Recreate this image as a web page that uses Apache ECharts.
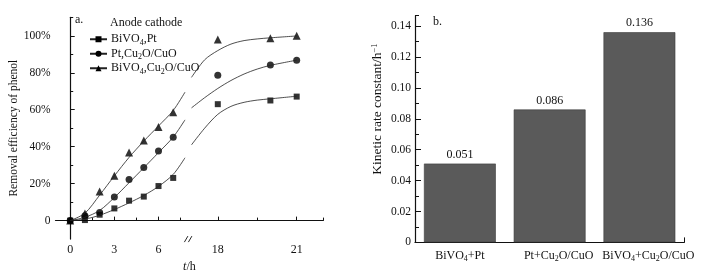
<!DOCTYPE html>
<html>
<head>
<meta charset="utf-8">
<script src="https://cdn.jsdelivr.net/npm/echarts@6/dist/echarts.min.js"></script>
<style>
    html, body { margin: 0; padding: 0; background: #fff; }
    #chart { width: 713px; height: 278px; }
</style>
</head>
<body>
<div id="chart"></div>
<script>
// 测量时间 (h)
const hours = [0, 1, 2, 3, 4, 5, 6, 7, 18, 20, 21];
// 苯酚去除率 (%)
const bivPt = [0, 0.3, 3.2, 6.6, 10.8, 13, 18.7, 23.1, 63, 65, 67.1];
const ptCu = [0, 2.7, 4.4, 12.8, 22.2, 28.8, 37.6, 45.1, 78.7, 84.2, 86.7];
const bivCu = [0, 3.9, 15.8, 24.3, 36.9, 43.3, 50.6, 58.6, 98, 98.6, 100];

// 拟合曲线 (断轴两侧)
const fitHoursLeft = [0, 1, 2, 3, 4, 5, 6, 7, 7.8];
const fitHoursRight = [17, 17.5, 18, 18.5, 19, 19.5, 20, 21];
const fitBivPt = [[0, 0.8, 2.9, 6, 9.6, 13.6, 18.5, 25, 34], [41, 50, 57.5, 61.8, 64, 65.2, 65.9, 67.3]];
const fitPtCu = [[0, 1.8, 5.5, 12.5, 20.5, 28.6, 36.8, 45.2, 54.5], [61, 66.5, 71.5, 75.8, 79.3, 82, 84, 86.8]];
const fitBivCu = [[0, 4, 13.8, 24.2, 34.2, 43, 51.2, 59.6, 69.5], [77.5, 87, 92, 95.5, 97.4, 98.3, 98.9, 99.9]];

const seriesNames = ['BiVO4,Pt', 'Pt,Cu2O/CuO', 'BiVO4,Cu2O/CuO'];
const symbols = ['rect', 'circle', 'triangle'];

// 坐标轴刻度
const xMajor = [0, 3, 6, 18, 21];
const xMinor = [1.5, 4.5, 7.5, 19.5];
const yMajor = [0, 20, 40, 60, 80, 100];
const yMinor = [10, 30, 50, 70, 90, 110];

// 动力学常数
const cats = ['BiVO4+Pt', 'Pt+Cu2O/CuO', 'BiVO4+Cu2O/CuO'];
const kValues = [0.051, 0.086, 0.136];
const kMajor = [0, 0.02, 0.04, 0.06, 0.08, 0.10, 0.12, 0.14];
const kMinor = [0.01, 0.03, 0.05, 0.07, 0.09, 0.11, 0.13];
const kMax = 0.1467;

// 断轴: 左段 1:1, 右段放大
function toAxis(t) {
    if (t <= 8) return t;
    return 10.03 + (t - 18) * 1.787;
}
const xMin = -1, xMax = 17.2, breakU = 8.1;

const font = 'Liberation Serif';
const ink = '#111';
const sub = { fontSize: 8, lineHeight: 6, verticalAlign: 'bottom', fontFamily: font, color: ink };
const sup = { fontSize: 8.5, lineHeight: 6, verticalAlign: 'top', fontFamily: font, color: ink };

function withSub(s) {
    return s.replace(/([A-Za-z])(\d)/g, '$1{s|$2}');
}

function fitData(fit) {
    const left = fitHoursLeft.map((t, i) => [toAxis(t), fit[0][i]]);
    const right = fitHoursRight.map((t, i) => [toAxis(t), fit[1][i]]);
    return left.concat([[breakU, '-']], right);
}

const fits = [fitBivPt, fitPtCu, fitBivCu];
const points = [bivPt, ptCu, bivCu];
const symbolSizes = [6, 7, 8];

const lineSeries = seriesNames.map((name, i) => ({
    name: name,
    type: 'line',
    xAxisIndex: 0,
    yAxisIndex: 0,
    data: fitData(fits[i]),
    smooth: 0.3,
    symbol: symbols[i],
    showSymbol: false,
    lineStyle: { color: '#222', width: 0.8 },
    itemStyle: { color: '#000' },
    connectNulls: false,
    silent: true
}));

const scatterSeries = seriesNames.map((name, i) => ({
    name: name,
    type: 'scatter',
    xAxisIndex: 0,
    yAxisIndex: 0,
    symbol: symbols[i],
    symbolSize: symbolSizes[i],
    itemStyle: { color: '#000' },
    data: hours.map((t, j) => [toAxis(t), points[i][j]])
}));

const axisLine = { lineStyle: { color: ink, width: 1.2 } };

const option = {
    animation: false,
    textStyle: { fontFamily: font, color: ink },
    title: [
        { text: 'a.', left: 75, top: 14, padding: 0, textStyle: { fontSize: 12, fontWeight: 'normal', fontFamily: font, color: ink } },
        { text: 'Anode cathode', left: 110, top: 17, padding: 0, textStyle: { fontSize: 12, fontWeight: 'normal', fontFamily: font, color: ink } },
        { text: 'b.', left: 433, top: 16, padding: 0, textStyle: { fontSize: 12, fontWeight: 'normal', fontFamily: font, color: ink } }
    ],
    legend: {
        data: seriesNames,
        orient: 'vertical',
        left: 89,
        top: 32,
        padding: 0,
        itemGap: 0,
        itemWidth: 17,
        itemHeight: 7.5,
        formatter: name => withSub(name),
        textStyle: {
            fontSize: 12, lineHeight: 14.5, fontFamily: font, color: ink, padding: [0, 0, 0, -1],
            rich: { s: sub }
        }
    },
    grid: [
        { left: 55.5, top: 17.3, width: 267.8, height: 224.4 },
        { left: 415, top: 15.7, width: 269.3, height: 226.7 }
    ],
    xAxis: [
        {
            gridIndex: 0, type: 'value', min: xMin, max: xMax, position: 'bottom',
            axisLine: axisLine,
            splitLine: { show: false },
            axisTick: { inside: true, length: 4, customValues: xMajor.map(toAxis), lineStyle: { color: ink, width: 1 } },
            axisLabel: {
                customValues: xMajor.map(toAxis), margin: 5, fontSize: 12, color: ink, fontFamily: font,
                formatter: v => {
                    const t = xMajor.find(h => Math.abs(toAxis(h) - v) < 1e-6);
                    return t === undefined ? '' : String(t);
                }
            },
            name: '{i|t}/h', nameLocation: 'middle', nameGap: 19,
            nameTextStyle: { fontSize: 12, color: ink, fontFamily: font, rich: { i: { fontStyle: 'italic', fontSize: 12, fontFamily: font, color: ink } } }
        },
        {
            gridIndex: 0, type: 'value', min: xMin, max: xMax, position: 'bottom',
            axisLine: { show: false }, splitLine: { show: false }, axisLabel: { show: false },
            axisTick: { inside: true, length: 3, customValues: xMinor.map(toAxis).concat([xMax]), lineStyle: { color: ink, width: 1 } }
        },
        {
            gridIndex: 1, type: 'category', position: 'bottom',
            data: cats,
            axisLine: axisLine,
            axisTick: { show: false },
            axisLabel: {
                interval: 0, margin: 6, fontSize: 12, lineHeight: 15, color: ink, fontFamily: font,
                formatter: (v, i) => (i === 0 ? '' : '{g| }') + withSub(v),
                rich: { s: sub, g: { width: 18 } }
            }
        },
        {
            gridIndex: 1, type: 'value', min: 0, max: 1, position: 'bottom',
            axisLine: { show: false }, splitLine: { show: false }, axisLabel: { show: false },
            axisTick: { inside: true, length: 5, customValues: [1], lineStyle: { color: ink, width: 1 } }
        }
    ],
    yAxis: [
        {
            gridIndex: 0, type: 'value', min: -10, max: 110, position: 'left',
            axisLine: { show: true, lineStyle: { color: ink, width: 1.2 } },
            splitLine: { show: false },
            axisTick: { show: true, inside: true, length: 4.5, customValues: yMajor, lineStyle: { color: ink, width: 1 } },
            axisLabel: {
                customValues: yMajor, margin: 5, fontSize: 11.5, color: ink, fontFamily: font,
                formatter: v => (v === 0 ? '0' : v + '%')
            },
            name: 'Removal efficiency of phenol', nameLocation: 'middle', nameGap: 31,
            nameTextStyle: { fontSize: 11.5, color: ink, fontFamily: font }
        },
        {
            gridIndex: 0, type: 'value', min: -10, max: 110, position: 'left',
            axisLine: { show: false }, splitLine: { show: false }, axisLabel: { show: false },
            axisTick: { show: true, inside: true, length: 3, customValues: yMinor, lineStyle: { color: ink, width: 1 } }
        },
        {
            gridIndex: 1, type: 'value', min: 0, max: kMax, position: 'left',
            axisLine: { show: true, lineStyle: { color: ink, width: 1.2 } },
            splitLine: { show: false },
            axisTick: { show: true, inside: true, length: 6, customValues: kMajor, lineStyle: { color: ink, width: 1 } },
            axisLabel: {
                customValues: kMajor, margin: 4, fontSize: 11.5, color: ink, fontFamily: font,
                formatter: v => (v === 0 ? '0' : v.toFixed(2))
            },
            name: 'Kinetic rate constant/h{p|−1}', nameLocation: 'middle', nameGap: 31,
            nameTextStyle: { fontSize: 13.5, color: ink, fontFamily: font, padding: [0, 0, 0, 40], rich: { p: sup } }
        },
        {
            gridIndex: 1, type: 'value', min: 0, max: kMax, position: 'left',
            axisLine: { show: false }, splitLine: { show: false }, axisLabel: { show: false },
            axisTick: { show: true, inside: true, length: 4, customValues: kMinor.concat([kMax]), lineStyle: { color: ink, width: 1 } }
        }
    ],
    series: lineSeries.concat(scatterSeries, [{
        name: 'k',
        type: 'bar',
        xAxisIndex: 2,
        yAxisIndex: 2,
        data: kValues,
        barWidth: '80%',
        itemStyle: { color: '#5a5a5a', borderColor: '#3a3a3a', borderWidth: 0.6 },
        label: {
            show: true, position: 'top', distance: 3, fontSize: 12, color: ink, fontFamily: font,
            formatter: p => p.value.toFixed(3)
        }
    }])
};

const chart = echarts.init(document.getElementById('chart'), null, { renderer: 'canvas' });
chart.setOption(option);

// 断轴标记 "//"
const bx = chart.convertToPixel({ xAxisIndex: 0 }, breakU);
const by = chart.convertToPixel({ yAxisIndex: 0 }, -10);
chart.setOption({
    graphic: [
        { type: 'rect', shape: { x: bx - 3.5, y: by - 1.5, width: 5, height: 3 }, style: { fill: '#fff' }, z: 100 },
        { type: 'line', shape: { x1: bx - 5, y1: by + 3, x2: bx - 1.5, y2: by - 3 }, style: { stroke: ink, lineWidth: 0.9 }, z: 101 },
        { type: 'line', shape: { x1: bx - 1, y1: by + 3, x2: bx + 2.5, y2: by - 3 }, style: { stroke: ink, lineWidth: 0.9 }, z: 101 }
    ]
});
</script>
</body>
</html>
